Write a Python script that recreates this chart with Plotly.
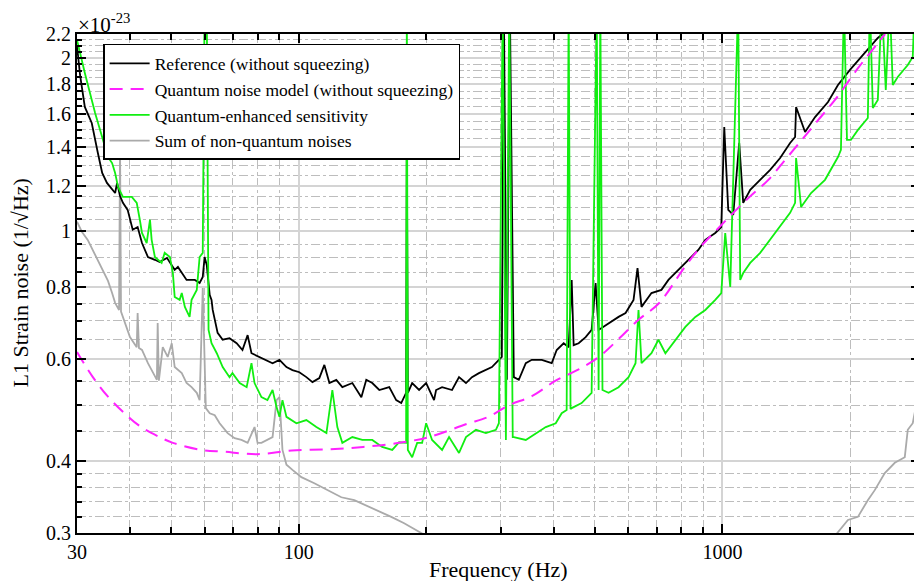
import plotly.graph_objects as go

# ---- data (strain in units of 1e-23 /sqrt(Hz)) ----
ref_f = [30.0, 30.5, 31.3, 32.5, 33.6, 34.4, 35.3, 36.9, 37.3, 37.9, 38.5, 39.5, 40.6, 41.7, 42.7, 44.1, 45.8, 47.0,
         48.9, 51.0, 51.9, 54.4, 56.9, 58.4, 59.4, 60.0, 60.7, 61.7, 62.3, 62.7, 64.4, 66.2, 68.7, 71.4, 73.7, 75.8,
         77.4, 80.9, 84.0, 86.8, 90.1, 93.6, 96.7, 100.4, 104.3, 107.8, 111.9, 115.0, 118.2, 122.7, 126.8, 133.9,
         140.6, 144.4, 149.2, 155.0, 163.6, 169.9, 174.6, 179.3, 180.0, 181.0, 185.3, 192.4, 199.9, 208.7, 211.0,
         218.0, 230.1, 239.0, 248.2, 256.4, 266.3, 276.6, 285.8, 296.8, 301.6, 304.9, 310.0, 315.0, 321.9, 330.7,
         343.5, 354.9, 374.7, 395.5, 406.3, 422.0, 433.6, 440.8, 445.5, 457.8, 475.5, 491.2, 501.9, 510.2, 538.6,
         568.6, 590.6, 616.8, 630.3, 644.1, 679.9, 717.7, 745.5, 787.0, 830.8, 877.0, 910.9, 961.5, 993.4, 1009.7,
         1031.8, 1060.1, 1095.2, 1119.2, 1162.5, 1227.2, 1295.5, 1367.7, 1443.9, 1483.6, 1491.6, 1566.2, 1653.5,
         1774.0, 1872.7, 1998.6, 2202.5, 2325.2, 2389.0, 2600.0]
ref_v = [2.10, 1.868, 1.644, 1.542, 1.368, 1.263, 1.214, 1.166, 1.214, 1.152, 1.121, 1.090, 1.007, 1.018, 0.955, 0.903,
         0.893, 0.885, 0.900, 0.858, 0.868, 0.824, 0.824, 0.814, 0.834, 0.903, 0.875, 0.776, 0.761, 0.731, 0.667,
         0.649, 0.653, 0.640, 0.623, 0.661, 0.615, 0.606, 0.599, 0.591, 0.599, 0.582, 0.575, 0.570, 0.559, 0.548,
         0.557, 0.587, 0.546, 0.553, 0.537, 0.546, 0.516, 0.553, 0.546, 0.531, 0.537, 0.510, 0.504, 0.525, 1.424,
         0.525, 0.546, 0.531, 0.546, 0.510, 0.531, 0.537, 0.531, 0.559, 0.546, 0.559, 0.568, 0.575, 0.582, 0.599,
         0.606, 2.5, 0.553, 2.5, 0.559, 0.553, 0.591, 0.599, 0.599, 0.591, 0.623, 0.640, 0.630, 0.824, 0.635, 0.640,
         0.656, 0.675, 0.814, 0.675, 0.694, 0.711, 0.722, 0.761, 0.864, 0.740, 0.782, 0.792, 0.824, 0.858, 0.893,
         0.929, 0.967, 0.994, 1.018, 1.518, 1.090, 1.068, 1.424, 1.121, 1.181, 1.229, 1.279, 1.341, 1.424, 1.458,
         1.644, 1.488, 1.579, 1.677, 1.795, 1.906, 2.064, 2.165, 2.2, 2.35]

model_f = [30.0, 32.7, 35.5, 38.7, 42.5, 47.0, 50.5, 59.0, 66.7, 80.0, 96.4, 118, 142, 172.5, 203, 248, 282, 314, 355,
           404, 459, 511, 569, 634, 707, 815, 887, 970, 1060, 1157, 1283, 1406, 1538, 1683, 1842, 2090, 2419]
model_v = [0.618, 0.559, 0.517, 0.485, 0.458, 0.440, 0.430, 0.418, 0.415, 0.411, 0.417, 0.419, 0.423, 0.430, 0.440,
           0.463, 0.478, 0.500, 0.518, 0.551, 0.577, 0.606, 0.651, 0.703, 0.750, 0.868, 0.940, 1.007, 1.077, 1.147,
           1.229, 1.331, 1.441, 1.561, 1.691, 1.921, 2.2]

sqz_f = [30.0, 31.3, 33.1, 34.4, 35.5, 36.3, 36.9, 37.5, 38.5, 40.4, 41.5, 42.2, 42.7, 43.8, 44.6, 45.0, 45.8, 47.5,
         48.3, 49.7, 50.5, 51.0, 52.4, 53.0, 53.9, 55.3, 55.9, 57.5, 58.4, 59.4, 60.0, 60.7, 61.3, 62.3, 64.1, 66.2,
         68.7, 69.8, 72.6, 75.4, 77.4, 78.7, 81.7, 84.4, 86.8, 88.7, 90.1, 91.6, 93.6, 98.8, 104.3, 110.1, 116.3,
         120.1, 123.4, 126.8, 133.9, 141.3, 149.2, 157.4, 166.3, 172.6, 179.3, 180.0, 181.0, 185.3, 190.4, 195.6,
         199.9, 206.5, 218.0, 226.4, 239.0, 248.2, 262.0, 276.6, 292.0, 296.8, 303.0, 308.3, 314.0, 320.0, 321.9,
         343.5, 362.7, 382.9, 404.2, 417.5, 428.9, 433.6, 438.0, 440.8, 465.2, 491.2, 505.0, 510.2, 515.0, 521.0,
         538.6, 568.6, 600.3, 623.5, 633.7, 644.1, 679.9, 706.1, 733.4, 774.3, 817.4, 862.9, 910.9, 961.5, 993.4,
         1015.0, 1043.0, 1089.0, 1101.0, 1119.2, 1162.5, 1227.2, 1295.5, 1367.7, 1443.9, 1483.6, 1491.6, 1532.6,
         1617.9, 1745.4, 1872.7, 1903.0, 1934.6, 1966.6, 2009.0, 2087.0, 2202.5, 2226.7, 2263.0, 2325.2, 2376.0,
         2428.0, 2481.0, 2522.0, 2591.0, 2736.0, 2811.0, 2842.0, 2920.0]
sqz_v = [2.148, 1.883, 1.605, 1.458, 1.346, 1.314, 1.263, 1.194, 1.148, 1.148, 1.121, 1.048, 0.994, 0.955, 1.048,
         0.967, 0.903, 0.882, 0.918, 0.903, 0.847, 0.770, 0.761, 0.782, 0.740, 0.711, 0.761, 0.792, 0.903, 0.918,
         2.5, 2.5, 0.675, 0.640, 0.615, 0.582, 0.559, 0.568, 0.546, 0.537, 0.591, 0.546, 0.516, 0.510, 0.531, 0.496,
         0.477, 0.510, 0.477, 0.465, 0.471, 0.458, 0.447, 0.531, 0.458, 0.430, 0.440, 0.435, 0.435, 0.423, 0.418,
         0.431, 0.430, 2.5, 0.418, 0.406, 0.430, 0.430, 0.465, 0.435, 0.418, 0.440, 0.413, 0.440, 0.453, 0.447,
         0.453, 0.465, 2.5, 0.435, 2.5, 0.440, 0.440, 0.435, 0.447, 0.458, 0.465, 0.484, 0.490, 2.5, 0.492, 0.494,
         0.504, 0.525, 2.5, 0.531, 2.5, 0.531, 0.525, 0.537, 0.559, 0.591, 0.731, 0.591, 0.615, 0.649, 0.615, 0.649,
         0.683, 0.711, 0.731, 0.761, 0.782, 0.994, 0.801, 2.5, 0.824, 0.847, 0.882, 0.918, 0.967, 1.018, 1.077,
         1.121, 1.341, 1.103, 1.166, 1.229, 1.346, 1.385, 2.5, 1.441, 1.441, 1.500, 1.573, 2.5, 1.637, 1.691, 2.5,
         1.760, 2.5, 1.795, 1.853, 1.944, 2.007, 2.5, 2.064]

tech_f = [30.0, 30.8, 31.8, 33.1, 34.4, 35.5, 36.3, 36.9, 37.7, 37.9, 38.1, 38.9, 40.0, 41.5, 41.7, 42.0, 42.7, 44.1,
          46.3, 46.5, 46.8, 47.8, 49.1, 50.2, 51.0, 53.0, 54.4, 55.9, 57.5, 58.4, 59.4, 60.4, 61.7, 63.4, 65.1, 68.0,
          70.6, 73.3, 75.8, 78.7, 80.0, 81.7, 84.4, 86.8, 88.7, 90.1, 91.6, 93.6, 96.7, 101.5, 108.9, 116.9, 126.1,
          135.3, 142.9, 153.3, 165.4, 177.4, 197.7, None,
          1852, 1977, 2087, 2202.5, 2287, 2415, 2550, 2692, 2736, 2811, 2888, 2920]
tech_v = [1.040, 0.999, 0.967, 0.911, 0.864, 0.821, 0.782, 0.752, 0.731, 1.412, 0.726, 0.694, 0.656, 0.630, 0.722,
          0.628, 0.623, 0.591, 0.553, 0.694, 0.551, 0.630, 0.606, 0.640, 0.582, 0.568, 0.546, 0.537, 0.525, 0.510,
          0.798, 0.494, 0.484, 0.480, 0.465, 0.447, 0.438, 0.435, 0.430, 0.458, 0.430, 0.430, 0.435, 0.440, 0.510,
          0.516, 0.418, 0.394, 0.386, 0.375, 0.366, 0.356, 0.346, 0.342, 0.336, 0.329, 0.320, 0.312, 0.298, None,
          0.298, 0.316, 0.320, 0.342, 0.356, 0.381, 0.397, 0.406, 0.453, 0.465, 0.516, 0.525]

names = ["Reference (without squeezing)", "Quantum noise model (without squeezing)",
         "Quantum-enhanced sensitivity", "Sum of non-quantum noises"]

x_major = [30, 100, 1000]
x_major_text = ["30", "100", "1000"]
x_minor = [40, 50, 60, 70, 80, 90, 200, 300, 400, 500, 600, 700, 800, 900, 2000]
y_major = [0.3, 0.4, 0.6, 0.8, 1.0, 1.2, 1.4, 1.6, 1.8, 2.0, 2.2]
y_major_text = ["0.3", "0.4", "0.6", "0.8", "1", "1.2", "1.4", "1.6", "1.8", "2", "2.2"]
y_minor = [0.32, 0.34, 0.36, 0.38, 0.45, 0.5, 0.55, 0.65, 0.7, 0.75, 0.85, 0.9, 0.95, 1.05, 1.1, 1.15, 1.25,
           1.3, 1.35, 1.45, 1.5, 1.55, 1.65, 1.7, 1.75, 1.85, 1.9, 1.95, 2.05, 2.1, 2.15]

FONT = "Liberation Serif"

fig = go.Figure()
fig.add_trace(go.Scatter(x=tech_f, y=tech_v, mode="lines", name=names[3], legendrank=4,
                         line=dict(color="#aaaaaa", width=1.8), connectgaps=False))
fig.add_trace(go.Scatter(x=ref_f, y=ref_v, mode="lines", name=names[0], legendrank=1,
                         line=dict(color="black", width=1.8)))
fig.add_trace(go.Scatter(x=sqz_f, y=sqz_v, mode="lines", name=names[2], legendrank=3,
                         line=dict(color="#11ee11", width=1.8)))
fig.add_trace(go.Scatter(x=model_f, y=model_v, mode="lines", name=names[1], legendrank=2,
                         line=dict(color="#ff22ff", width=2, dash="13px,8px"), line_shape="spline"))

# page body adds an 8px offset, so the figure is 8px smaller than the window on each used side
fig.update_layout(
    width=914, height=573,
    margin=dict(l=69, r=0, t=26, b=48),
    paper_bgcolor="white", plot_bgcolor="white",
    font=dict(family=FONT, size=20, color="black"),
    showlegend=True,
    legend=dict(x=0.031, y=0.98, xanchor="left", yanchor="top", bgcolor="white",
                bordercolor="black", borderwidth=1.5, font=dict(family=FONT, size=17.5),
                itemwidth=40, tracegroupgap=0),
    annotations=[
        dict(text="×10<sup>-23</sup>", xref="paper", yref="paper", x=0, y=1,
             xanchor="left", yanchor="top", showarrow=False, xshift=-1, yshift=26,
             font=dict(family=FONT, size=21)),
        dict(text="Frequency (Hz)", xref="paper", yref="paper", x=0.5, y=0,
             xanchor="center", yanchor="top", showarrow=False, yshift=-22,
             font=dict(family=FONT, size=22)),
        dict(text="L1 Strain noise (1/√Hz)", xref="paper", yref="paper", x=0, y=0.5,
             xanchor="center", yanchor="middle", showarrow=False, xshift=-57, textangle=-90,
             font=dict(family=FONT, size=22)),
    ],
)

fig.update_xaxes(type="log", range=[1.4771, 3.4660],
                 tickmode="array", tickvals=x_major, ticktext=x_major_text,
                 ticks="inside", ticklen=9, tickwidth=2, tickcolor="black",
                 showline=True, linecolor="black", linewidth=2, mirror="ticks",
                 showgrid=True, gridcolor="#d4d4d4", gridwidth=1.5,
                 zeroline=False,
                 tickfont=dict(family=FONT, size=20),
                 minor=dict(tickmode="array", tickvals=x_minor, ticks="inside", ticklen=6,
                            tickwidth=2, tickcolor="black", showgrid=True,
                            gridcolor="#bdbdbd", griddash="dashdot", gridwidth=1))

fig.update_yaxes(type="log", range=[-0.52288, 0.34242],
                 tickmode="array", tickvals=y_major, ticktext=y_major_text,
                 ticks="inside", ticklen=9, tickwidth=2, tickcolor="black",
                 showline=True, linecolor="black", linewidth=2, mirror="ticks",
                 showgrid=True, gridcolor="#d4d4d4", gridwidth=1.5,
                 zeroline=False,
                 tickfont=dict(family=FONT, size=20),
                 minor=dict(tickmode="array", tickvals=y_minor, ticks="inside", ticklen=5,
                            tickwidth=2, tickcolor="black", showgrid=True,
                            gridcolor="#bdbdbd", griddash="dashdot", gridwidth=1))

fig.write_html("out.html")
